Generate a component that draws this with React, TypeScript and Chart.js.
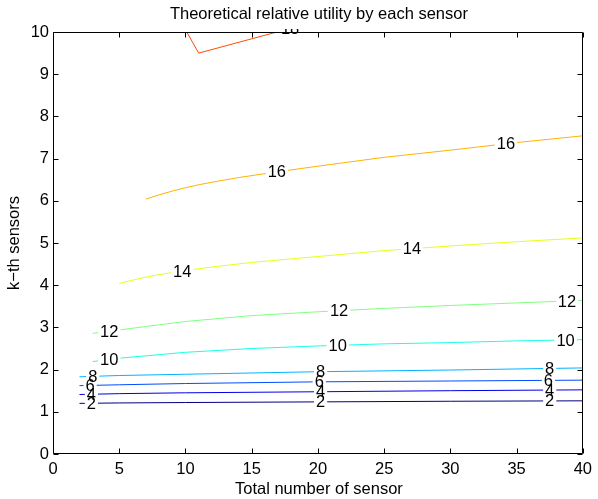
import React, { useEffect, useRef } from "react";
import { Chart, registerables } from "chart.js";

Chart.register(...registerables);

// ---- data ----
const xTicks = [0, 5, 10, 15, 20, 25, 30, 35, 40];
const yTicks = [0, 1, 2, 3, 4, 5, 6, 7, 8, 9, 10];

const x2 = [2, 5, 10, 20, 30, 40];
const y2 = [1.2, 1.21, 1.22, 1.235, 1.25, 1.26];
const labels2 = [2.9, 20.2, 37.5];

const x4 = [2, 5, 10, 20, 30, 40];
const y4 = [1.41, 1.43, 1.45, 1.475, 1.5, 1.52];
const labels4 = [2.9, 20.2, 37.5];

const x6 = [2, 5, 10, 20, 30, 40];
const y6 = [1.62, 1.64, 1.67, 1.71, 1.73, 1.75];
const labels6 = [2.8, 20.1, 37.4];

const x8 = [2, 5, 10, 20, 30, 40];
const y8 = [1.83, 1.86, 1.89, 1.95, 1.99, 2.04];
const labels8 = [3.0, 20.2, 37.5];

const x10 = [3, 5, 10, 15, 20, 25, 30, 35, 40];
const y10 = [2.19, 2.27, 2.41, 2.5, 2.56, 2.61, 2.64, 2.68, 2.71];
const labels10 = [4.25, 21.5, 38.7];

const x12 = [3, 5, 10, 15, 20, 25, 30, 35, 40];
const y12 = [2.86, 2.94, 3.14, 3.28, 3.37, 3.45, 3.52, 3.58, 3.64];
const labels12 = [4.25, 21.6, 38.8];

const x14 = [5, 6, 7, 8, 10, 12, 15, 20, 25, 30, 35, 40];
const y14 = [4.04, 4.12, 4.19, 4.25, 4.35, 4.43, 4.54, 4.68, 4.82, 4.93, 5.03, 5.12];
const labels14 = [9.75, 27.1];

const x16 = [7, 8, 9, 10, 11, 12, 14, 17, 20, 25, 30, 35, 40];
const y16 = [6.04, 6.14, 6.23, 6.31, 6.38, 6.44, 6.55, 6.69, 6.82, 7.03, 7.2, 7.38, 7.54];
const labels16 = [16.9, 34.2];

const x18 = [10.1, 11, 16.9];
const y18 = [10, 9.5, 10];
const labels18 = [17.9];

const contours = [
  { level: 2, x: x2, y: y2, labels: labels2 },
  { level: 4, x: x4, y: y4, labels: labels4 },
  { level: 6, x: x6, y: y6, labels: labels6 },
  { level: 8, x: x8, y: y8, labels: labels8 },
  { level: 10, x: x10, y: y10, labels: labels10 },
  { level: 12, x: x12, y: y12, labels: labels12 },
  { level: 14, x: x14, y: y14, labels: labels14 },
  { level: 16, x: x16, y: y16, labels: labels16 },
  { level: 18, x: x18, y: y18, labels: labels18 },
];

const TITLE = "Theoretical relative utility by each sensor";
const X_TITLE = "Total number of sensor";
const Y_TITLE = "k\u2212th sensors";

const FONT = "'Liberation Sans', Arial, Helvetica, sans-serif";
const FS = 16.5;

// jet colormap
const jet = (t: number) => {
  const c = (v: number) => Math.round(255 * Math.max(0, Math.min(1, v)));
  return `rgb(${c(1.5 - Math.abs(4 * t - 3))},${c(1.5 - Math.abs(4 * t - 2))},${c(
    1.5 - Math.abs(4 * t - 1)
  )})`;
};
const levelColor = (v: number) => jet((v - 2) / 20);

// position along polyline (extrapolates at ends)
const lineYAt = (xs: number[], ys: number[], x: number) => {
  let i = 0;
  while (i < xs.length - 2 && x > xs[i + 1]) i++;
  const t = (x - xs[i]) / (xs[i + 1] - xs[i]);
  return ys[i] + t * (ys[i + 1] - ys[i]);
};

const framePlugin = {
  id: "matlabFrame",
  afterDatasetsDraw(chart: any) {
    const { ctx, chartArea: a, scales } = chart;
    const sx = scales.x;
    const sy = scales.y;

    // inline contour labels
    ctx.save();
    ctx.beginPath();
    ctx.rect(a.left, a.top - 3, a.right - a.left, a.bottom - a.top + 3);
    ctx.clip();
    ctx.font = `${FS}px ${FONT}`;
    ctx.textAlign = "center";
    ctx.textBaseline = "middle";
    contours.forEach((c) => {
      c.labels.forEach((lx) => {
        const ly = lineYAt(c.x, c.y, lx);
        const px = sx.getPixelForValue(lx);
        const py = sy.getPixelForValue(ly);
        const txt = String(c.level);
        const w = ctx.measureText(txt).width;
        ctx.fillStyle = "#ffffff";
        ctx.fillRect(px - w / 2 - 2, py - 2.5, w + 4, 5);
        ctx.fillStyle = "#000000";
        ctx.fillText(txt, px, py + 1);
      });
    });
    ctx.restore();

    // axes box and inward ticks
    ctx.save();
    ctx.strokeStyle = "#000000";
    ctx.lineWidth = 1;
    const L = Math.round(a.left) + 0.5;
    const R = Math.round(a.right) - 0.5;
    const T = Math.round(a.top) + 0.5;
    const B = Math.round(a.bottom) - 0.5;
    ctx.beginPath();
    ctx.rect(L, T, R - L, B - T);
    const tl = 5;
    sx.ticks.forEach((t: any) => {
      const p = Math.round(sx.getPixelForValue(t.value)) + 0.5;
      ctx.moveTo(p, B);
      ctx.lineTo(p, B - tl);
      ctx.moveTo(p, T);
      ctx.lineTo(p, T + tl);
    });
    sy.ticks.forEach((t: any) => {
      const p = Math.round(sy.getPixelForValue(t.value)) + 0.5;
      ctx.moveTo(L, p);
      ctx.lineTo(L + tl, p);
      ctx.moveTo(R, p);
      ctx.lineTo(R - tl, p);
    });
    ctx.stroke();

    // titles
    ctx.fillStyle = "#000000";
    ctx.font = `${FS}px ${FONT}`;
    ctx.textAlign = "center";
    ctx.textBaseline = "alphabetic";
    const cx = (a.left + a.right) / 2;
    const cy = (a.top + a.bottom) / 2;
    ctx.fillText(TITLE, cx + 1, 19);
    ctx.fillText(X_TITLE, cx + 1, 494);
    ctx.translate(18.5, cy);
    ctx.rotate(-Math.PI / 2);
    ctx.fillText(Y_TITLE, 0, 0);
    ctx.restore();
  },
};

export default function App() {
  const ref = useRef<HTMLCanvasElement>(null);
  useEffect(() => {
    document.body.style.margin = "0";
    const datasets = contours.map((c) => ({
      label: String(c.level),
      data: c.x.map((x, i) => ({ x, y: c.y[i] })),
      showLine: true,
      borderColor: levelColor(c.level),
      backgroundColor: levelColor(c.level),
      borderWidth: 1,
      pointRadius: 0,
      pointHoverRadius: 0,
      tension: 0,
    }));
    const chart = new Chart(ref.current as HTMLCanvasElement, {
      type: "scatter",
      data: { datasets },
      options: {
        animation: false,
        responsive: false,
        devicePixelRatio: 1,
        layout: { padding: { top: 32, right: 10, left: 0, bottom: 0 } },
        plugins: {
          legend: { display: false },
          title: { display: false },
          tooltip: { enabled: false },
        },
        scales: {
          x: {
            type: "linear",
            min: 0,
            max: 40,
            afterBuildTicks: (s: any) => {
              s.ticks = xTicks.map((v) => ({ value: v }));
            },
            afterFit: (s: any) => {
              s.height = 45;
            },
            grid: { display: false, drawTicks: false },
            border: { display: false },
            ticks: {
              autoSkip: false,
              maxRotation: 0,
              padding: 6,
              color: "#000000",
              font: { family: FONT, size: FS },
            },
          },
          y: {
            type: "linear",
            min: 0,
            max: 10,
            afterBuildTicks: (s: any) => {
              s.ticks = yTicks.map((v) => ({ value: v }));
            },
            afterFit: (s: any) => {
              s.width = 53;
            },
            grid: { display: false, drawTicks: false },
            border: { display: false },
            ticks: {
              autoSkip: false,
              padding: 4,
              color: "#000000",
              font: { family: FONT, size: FS },
            },
          },
        },
      },
      plugins: [framePlugin],
    } as any);
    return () => chart.destroy();
  }, []);
  return (
    <div style={{ width: 598, height: 499 }}>
      <canvas ref={ref} width={598} height={499} style={{ display: "block" }} />
    </div>
  );
}
